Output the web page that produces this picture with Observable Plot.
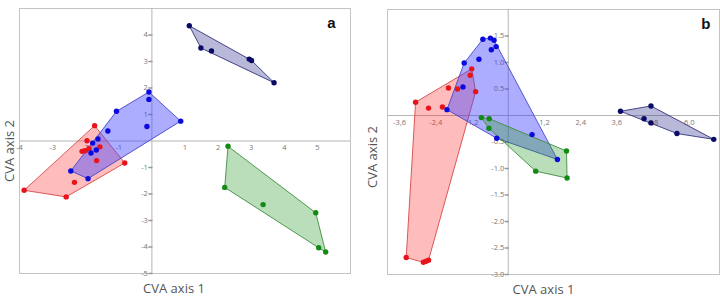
<!DOCTYPE html>
<html>
<head>
<meta charset="utf-8">
<script src="https://cdn.jsdelivr.net/npm/d3@7"></script>
<script src="https://cdn.jsdelivr.net/npm/@observablehq/plot@0.6"></script>
<style>
  html, body { margin: 0; padding: 0; background: #fff; }
  #wrap { display: flex; width: 720px; height: 297px; overflow: hidden; }
  #wrap svg { flex: none; }
</style>
</head>
<body>
<div id="wrap"></div>
<script>
// ---- Panel a data ----
const aRed = [[-1.73,0.58],[-1.96,0.01],[-1.57,-0.22],[-1.90,-0.28],[-2.11,-0.39],[-2.01,-0.37],[-1.67,-0.74],[-0.82,-0.83],[-2.34,-1.56],[-3.86,-1.86],[-2.59,-2.11]];
const aBlue = [[-0.09,1.85],[-0.09,1.57],[-1.07,1.12],[0.87,0.75],[-0.15,0.55],[-1.33,0.38],[-1.63,0.08],[-1.79,-0.08],[-1.84,-0.45],[-1.68,-0.34],[-2.45,-1.13],[-1.93,-1.42]];
const aNavy = [[1.13,4.35],[1.48,3.51],[1.80,3.40],[2.94,3.09],[3.01,3.04],[3.69,2.20]];
const aGreen = [[2.30,-0.20],[2.20,-1.75],[3.36,-2.40],[4.95,-2.71],[5.04,-4.03],[5.25,-4.19]];
const aXTicks = [-4,-3,-2,-1,1,2,3,4,5];
const aYTicks = [4,3,2,1,-1,-2,-3,-4,-5];

// ---- Panel b data ----
const bRed = [[-1.21,0.88],[-1.26,0.76],[-1.98,0.52],[-1.68,0.50],[-1.08,0.45],[-3.07,0.25],[-2.64,0.14],[-2.18,0.16],[-3.38,-2.68],[-2.81,-2.77],[-2.64,-2.73],[-2.72,-2.75]];
const bBlue = [[-0.84,1.44],[-0.59,1.46],[-0.47,1.42],[-0.40,1.30],[-0.56,1.24],[-0.97,1.06],[-1.46,0.99],[-1.50,0.54],[-2.03,0.11],[-0.38,-0.43],[0.79,-0.36],[1.63,-0.83]];
const bNavy = [[3.72,0.08],[4.73,0.18],[4.50,-0.06],[4.73,-0.14],[5.59,-0.34],[6.81,-0.45]];
const bGreen = [[-0.89,-0.04],[-0.63,-0.06],[-0.64,-0.24],[0.91,-1.05],[1.93,-0.67],[1.95,-1.18]];
const bXTicks = [-3.6,-2.4,-1.2,1.2,2.4,3.6,4.8,6.0];
const bYTicks = [1.5,1.0,0.5,-0.5,-1.0,-1.5,-2.0,-2.5,-3.0];

const styles = {
  red:   {dot: "#e8141c", stroke: "#d84848", fill: "#ff2020", op: 0.30},
  blue:  {dot: "#0a0adc", stroke: "#4646c8", fill: "#4040ff", op: 0.43},
  navy:  {dot: "#0a0a66", stroke: "#34347e", fill: "#28288a", op: 0.33},
  green: {dot: "#138a13", stroke: "#3f8f3f", fill: "#2a9a2a", op: 0.33}
};

const font = "'Open Sans', 'Liberation Sans', sans-serif";
const tickShape = {draw(ctx, l) { ctx.moveTo(0, 0); ctx.lineTo(0, -l); }};

function panel(opts) {
  const {groups, xDomain, yDomain, xTicks, yTicks, xFmt, yFmt, margins, letter, letterDx, xLabelDx, yLabelDx, yLabelDy} = opts;
  const marks = [
    Plot.frame({stroke: "#c4c4c4"}),
    Plot.ruleX([0], {stroke: "#b4b4b4"}),
    Plot.ruleY([0], {stroke: "#b4b4b4"}),
    Plot.vector(yTicks, {x: 0, y: d => d, length: 3, rotate: 270, anchor: "start", shape: tickShape, stroke: "#999"}),
    Plot.text(xTicks, {x: d => d, y: 0, dy: 7, text: xFmt, fontSize: 7.5, fill: "#777"}),
    Plot.text(yTicks, {x: 0, y: d => d, dx: -4, textAnchor: "end", text: yFmt, fontSize: 7.5, fill: "#777"})
  ];
  for (const [key, data] of groups) {
    const s = styles[key];
    marks.push(Plot.hull(data, {x: d => d[0], y: d => d[1], fill: s.fill, fillOpacity: s.op, stroke: s.stroke, strokeWidth: 0.9}));
  }
  for (const [key, data] of groups) {
    const s = styles[key];
    marks.push(Plot.dot(data, {x: d => d[0], y: d => d[1], r: 2.7, fill: s.dot}));
  }
  marks.push(
    Plot.text(["CVA axis 1"], {frameAnchor: "bottom", dy: 19, dx: xLabelDx, fontSize: 13, fill: "#555", fontFamily: font}),
    Plot.text(["CVA axis 2"], {frameAnchor: "left", textAnchor: "middle", lineAnchor: "middle", dx: yLabelDx, dy: yLabelDy, rotate: -90, fontSize: 13, fill: "#555", fontFamily: font}),
    Plot.text([letter], {frameAnchor: "top-right", dx: letterDx, dy: 9, fontSize: 15, fontWeight: "bold", fill: "#111", fontFamily: "'Liberation Sans', Arial, sans-serif"})
  );
  return Plot.plot({
    width: 360, height: 297,
    marginLeft: margins.left, marginRight: margins.right, marginTop: margins.top, marginBottom: margins.bottom,
    x: {domain: xDomain, axis: null},
    y: {domain: yDomain, axis: null},
    style: {fontFamily: font, background: "#fff"},
    marks
  });
}

const wrap = document.getElementById("wrap");
wrap.appendChild(panel({
  groups: [["red", aRed], ["blue", aBlue], ["navy", aNavy], ["green", aGreen]],
  xDomain: [-4, 6], yDomain: [-5, 5],
  xTicks: aXTicks, yTicks: aYTicks,
  xFmt: d => String(d), yFmt: d => String(d),
  margins: {left: 19, right: 10, top: 8, bottom: 24},
  letter: "a", letterDx: -15, xLabelDx: -11, yLabelDx: -10, yLabelDy: 10
}));
wrap.appendChild(panel({
  groups: [["red", bRed], ["blue", bBlue], ["navy", bNavy], ["green", bGreen]],
  xDomain: [-4, 7], yDomain: [-3, 2],
  xTicks: bXTicks, yTicks: bYTicks,
  xFmt: d => d.toFixed(1).replace(".", ","), yFmt: d => d.toFixed(1),
  margins: {left: 27, right: 1, top: 9, bottom: 23},
  letter: "b", letterDx: -9, xLabelDx: -10, yLabelDx: -15, yLabelDy: 15
}));
</script>
</body>
</html>
